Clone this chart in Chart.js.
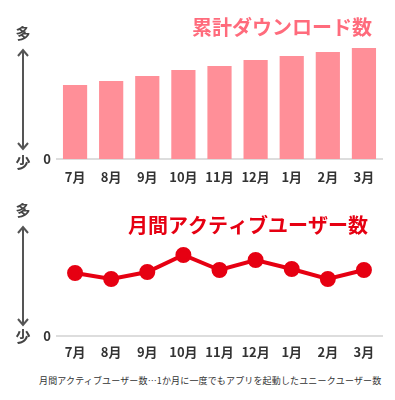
<!DOCTYPE html>
<html>
<head>
<meta charset="utf-8">
<script src="https://cdn.jsdelivr.net/npm/chart.js@4"></script>
<style>
  body { margin: 0; background: #fff; width: 395px; height: 400px; overflow: hidden; position: relative; }
  .wrap { position: absolute; left: 0; width: 395px; }
  #top { top: 0; height: 190px; }
  #bottom { top: 190px; height: 180px; }
  .note {
    position: absolute; left: 39px; top: 374px;
    font: 9px "Noto Sans CJK JP", sans-serif; color: #333; white-space: nowrap;
    letter-spacing: 0.15px;
  }
</style>
</head>
<body>
<div class="wrap" id="top"><canvas id="downloads"></canvas></div>
<div class="wrap" id="bottom"><canvas id="active"></canvas></div>
<div class="note">月間アクティブユーザー数…1か月に一度でもアプリを起動したユニークユーザー数</div>
<script>
const months = [`7月`, `8月`, `9月`, `10月`, `11月`, `12月`, `1月`, `2月`, `3月`];
const downloads = [74, 78, 83, 89, 93, 99, 103, 107, 111];
const activeUsers = [63, 57, 64, 81, 66, 76, 67, 57, 66];

const JP = `"Noto Sans CJK JP", sans-serif`;
const textColor = `#333`;

// arrow + 多/少 + title, drawn in canvas coords
const decor = (opt) => ({
  id: `decor`,
  afterDraw(chart) {
    const ctx = chart.ctx;
    ctx.save();
    ctx.fillStyle = `#444`;
    ctx.font = `bold 15px ${JP}`;
    ctx.textAlign = `center`;
    ctx.textBaseline = `middle`;
    ctx.fillText(`多`, 23, opt.many);
    ctx.fillText(`少`, 23, opt.few);

    ctx.strokeStyle = `#555`;
    ctx.lineWidth = 2;
    ctx.beginPath();
    ctx.moveTo(23, opt.top + 1);
    ctx.lineTo(23, opt.bottom - 1);
    ctx.moveTo(18, opt.top + 6);
    ctx.lineTo(23, opt.top);
    ctx.lineTo(28, opt.top + 6);
    ctx.moveTo(18, opt.bottom - 6);
    ctx.lineTo(23, opt.bottom);
    ctx.lineTo(28, opt.bottom - 6);
    ctx.stroke();

    ctx.fillStyle = opt.color;
    ctx.font = `bold 20px ${JP}`;
    ctx.textAlign = `right`;
    ctx.fillText(opt.title, opt.titleX, opt.titleY);
    ctx.restore();
  }
});

const scalesFor = (xHeight, pad) => ({
  x: {
    offset: true,
    grid: { display: false, drawTicks: false },
    border: { display: true, color: `#ddd`, width: 2 },
    ticks: { color: textColor, padding: pad, font: { family: JP, size: 13, weight: `bold` } },
    afterFit: (s) => { s.height = xHeight; },
  },
  y: {
    min: 0,
    max: 120,
    grid: { display: false, drawTicks: false },
    border: { display: false },
    ticks: {
      color: textColor,
      padding: 6,
      font: { family: JP, size: 13, weight: `bold` },
      callback: (v) => v === 0 ? `0` : null,
    },
    afterFit: (s) => { s.width = 57; },
  },
});

new Chart(document.querySelector(`#downloads`), {
  type: `bar`,
  data: {
    labels: months,
    datasets: [{
      data: downloads,
      backgroundColor: `#ff8f98`,
      categoryPercentage: 1,
      barPercentage: 0.67,
    }]
  },
  options: {
    responsive: true,
    maintainAspectRatio: false,
    animation: false,
    layout: { padding: { top: 39, right: 13, left: 0, bottom: 0 } },
    plugins: { legend: { display: false }, tooltip: { enabled: false } },
    scales: scalesFor(31, 10),
  },
  plugins: [decor({ many: 33, few: 162, top: 50, bottom: 149,
    title: `累計ダウンロード数`, color: `#ff6b7c`, titleX: 372, titleY: 27 })],
});

new Chart(document.querySelector(`#active`), {
  type: `line`,
  data: {
    labels: months,
    datasets: [{
      data: activeUsers,
      borderColor: `#e60012`,
      backgroundColor: `#e60012`,
      borderWidth: 4,
      pointRadius: 6,
      tension: 0,
    }]
  },
  options: {
    responsive: true,
    maintainAspectRatio: false,
    animation: false,
    layout: { padding: { top: 26, right: 13, left: 0, bottom: 0 } },
    plugins: { legend: { display: false }, tooltip: { enabled: false } },
    scales: scalesFor(34, 8),
  },
  plugins: [decor({ many: 20, few: 146, top: 37, bottom: 135,
    title: `月間アクティブユーザー数`, color: `#e60012`, titleX: 368, titleY: 35 })],
});
</script>
</body>
</html>
